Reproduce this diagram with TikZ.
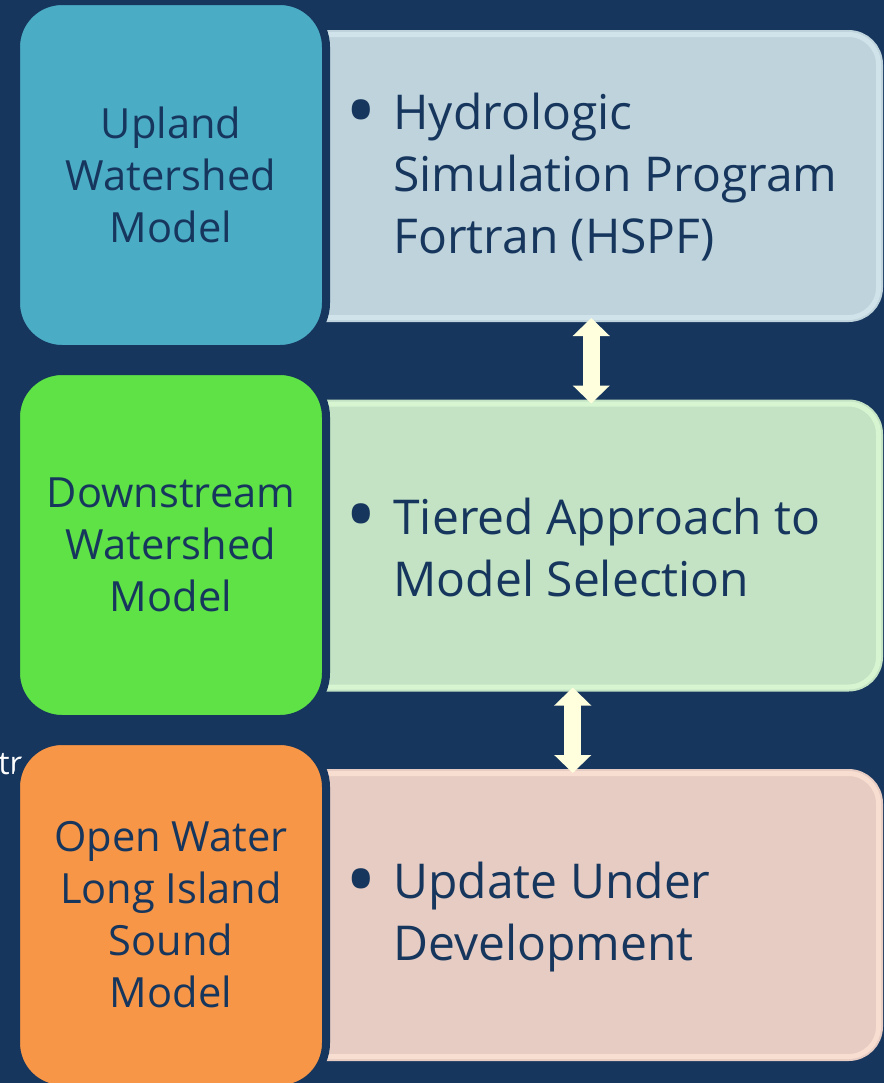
\documentclass[tikz,border=0pt]{standalone}
\usepackage{fontspec}
\setmainfont{Open Sans}
\usetikzlibrary{positioning,arrows.meta}

\definecolor{navy}{HTML}{17365D}
\definecolor{uplandblue}{HTML}{4BACC6}
\definecolor{downgreen}{HTML}{5EE246}
\definecolor{soundorange}{HTML}{F79646}
\definecolor{hspffill}{HTML}{BED3DC}
\definecolor{hspfrim}{HTML}{D0E3EA}
\definecolor{tierfill}{HTML}{C3E3C4}
\definecolor{tierrim}{HTML}{D6F5D0}
\definecolor{updfill}{HTML}{E6CCC2}
\definecolor{updrim}{HTML}{F8DED1}
\definecolor{linkcream}{HTML}{FFFFDD}

\newcommand{\firstline}{\makebox[20.5pt][l]{\hspace*{-3.5pt}\raisebox{-0.22em}{\scalebox{1.75}{\textbullet}}}}
\newcommand{\nextline}{\hspace*{20.5pt}}

\begin{document}
\begin{tikzpicture}[
  x=0.5pt, y=-0.5pt,
  model/.style={draw=navy, line width=4pt, rounded corners=23pt, outer sep=0pt,
    minimum width=155pt, minimum height=174pt, inner sep=0pt, align=center,
    text=navy, font=\fontsize{20.8}{26}\selectfont},
  panel/.style 2 args={fill=#1, draw=#1, double=#2, double distance=2.5pt,
    line width=1pt, rounded corners=15pt, outer sep=2.25pt,
    minimum width=339.25pt, minimum height=141.5pt},
  bullettext/.style={align=left, inner sep=0pt, text=navy, yshift=-1pt,
    font=\fontsize{24}{31}\selectfont},
  link/.style={draw=linkcream, line width=8.5pt,
    {Triangle[width=18pt,length=9pt]}-{Triangle[width=18pt,length=9pt]},
    shorten <=-2pt, shorten >=-2pt}
]
\fill[navy] (0,0) rectangle (884,1083);
\useasboundingbox (0,0) rectangle (884,1083);

\node[panel={hspffill}{hspfrim}] (hspfbox) at (539.25,176) {};
\node[panel={tierfill}{tierrim}, below=38.75pt of hspfbox] (tieredbox) {};
\node[panel={updfill}{updrim}, below=38.75pt of tieredbox] (updatebox) {};

\node[anchor=base west, inner sep=0pt, text=white, font=\fontsize{16}{20}\selectfont]
  (stray) at (-2,774) {tr};

\node[model, fill=uplandblue] (upland) at (171,175) {Upland\\Watershed\\Model};
\node[model, fill=downgreen, below=11pt of upland] (downstream) {Downstream\\Watershed\\Model};
\node[model, fill=soundorange, below=11pt of downstream] (sound) {Open Water\\Long Island\\Sound\\Model};

\node[bullettext, right=13pt of upland] (hspf)
  {\firstline Hydrologic\\\nextline Simulation Program\\\nextline Fortran (HSPF)};
\node[bullettext, right=13pt of downstream] (tiered)
  {\firstline Tiered Approach to\\\nextline Model Selection};
\node[bullettext, right=13pt of sound] (update)
  {\firstline Update Under\\\nextline Development};

\draw[link] ([xshift=26pt]hspfbox.south) -- ([xshift=26pt]tieredbox.north);
\draw[link] ([xshift=16.75pt]tieredbox.south) -- ([xshift=16.75pt]updatebox.north);
\end{tikzpicture}
\end{document}
